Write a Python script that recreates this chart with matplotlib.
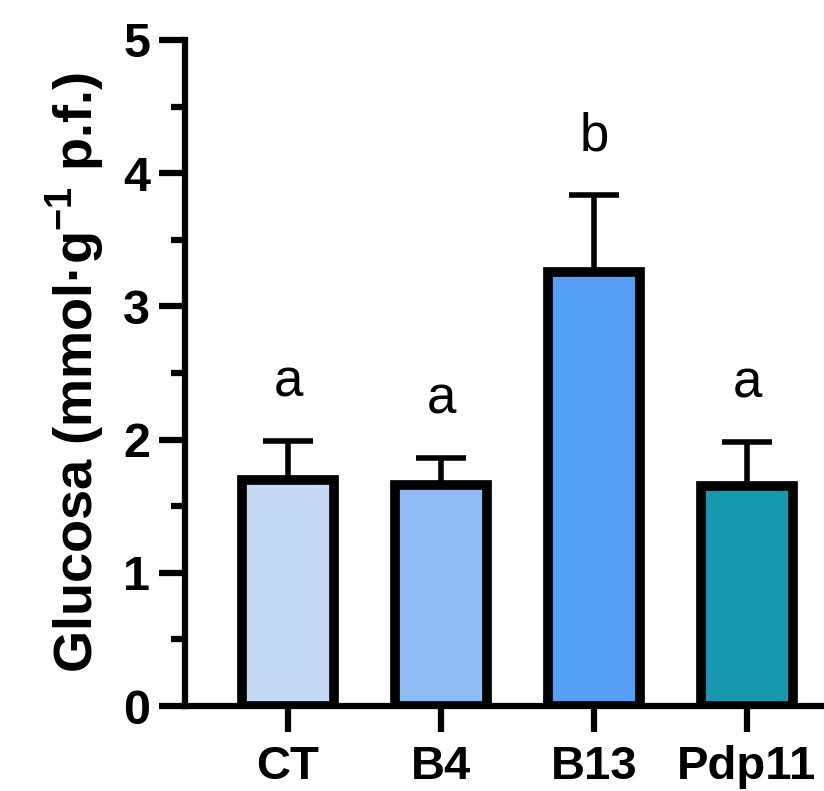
import matplotlib
matplotlib.use("Agg")
import matplotlib.pyplot as plt
import numpy as np

# Data
groups = ["CT", "B4", "B13", "Pdp11"]
means = [1.70, 1.66, 3.26, 1.65]
sds = [0.29, 0.20, 0.58, 0.33]
letters = ["a", "a", "b", "a"]
colors = ["#C6DCF6", "#8FBCF5", "#559FF7", "#1698AE"]

plt.rcParams["font.family"] = ["Liberation Sans", "DejaVu Sans"]
plt.rcParams["mathtext.default"] = "regular"

fig = plt.figure(figsize=(8.24, 7.91), dpi=100)
ax = fig.add_axes([185 / 824, 1 - 706 / 791, (824 - 185) / 824, (706 - 40) / 791])

x = np.arange(len(groups))

# upward-only error bars, drawn behind the bars
ax.errorbar(x, means, yerr=[np.zeros(len(sds)), sds], fmt="none",
            ecolor="black", elinewidth=4, capsize=18, capthick=4, zorder=1)
ax.bar(x, means, width=0.6, color=colors, edgecolor="black", linewidth=7, zorder=2)

for xi, m, s, lab in zip(x, means, sds, letters):
    ax.annotate(lab, (xi, m + s), xytext=(0, 24), textcoords="offset points",
                ha="center", va="bottom", fontsize=38)

ax.set_xlim(-0.673, 3.503)
ax.set_ylim(0, 5)
ax.set_yticks([0, 1, 2, 3, 4, 5])
ax.set_yticks(np.arange(0.5, 5, 1), minor=True)
ax.set_xticks(x)
ax.set_xticklabels(groups, fontsize=34, fontweight="bold")
for t in ax.get_yticklabels():
    t.set_fontsize(35)
    t.set_fontweight("bold")

ax.spines["top"].set_visible(False)
ax.spines["right"].set_visible(False)
ax.spines["left"].set_linewidth(4.5)
ax.spines["bottom"].set_linewidth(4.5)
ax.tick_params(axis="y", which="major", length=19, width=4.5, pad=6)
ax.tick_params(axis="y", which="minor", length=10, width=4.5)
ax.tick_params(axis="x", which="major", length=19, width=4.5, pad=9)

ax.set_ylabel("Glucosa (mmol·g$^{-1}$ p.f.)", fontsize=39, fontweight="bold", labelpad=12)

fig.savefig("out.png", dpi=100)
